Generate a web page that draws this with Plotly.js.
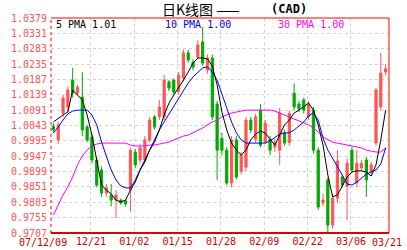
<!DOCTYPE html>
<html><head><meta charset="utf-8">
<script src="https://cdn.plot.ly/plotly-3.0.1.min.js"></script>
<style>html,body{margin:0;padding:0;background:#fff;}#chart{width:407px;height:250px;}</style>
</head><body><div id="chart"></div>
<script>
// Candle data (index 0..69)
const openP  = [1.0040,0.9998,1.0082,1.0101,1.0185,1.0145,1.0132,1.0038,1.0007,0.9935,
                0.9904,0.9832,0.9826,0.9810,0.9810,0.9807,0.9841,0.9960,0.9935,0.9935,
                0.9997,1.0070,1.0070,1.0070,1.0179,1.0185,1.0150,1.0191,1.0270,1.0241,
                1.0257,1.0304,1.0216,1.0254,1.0110,1.0002,0.9966,0.9863,0.9998,0.9900,
                0.9913,1.0060,1.0000,1.0091,0.9990,1.0000,0.9975,0.9966,1.0020,0.9990,
                1.0144,1.0110,1.0123,1.0070,1.0091,0.9966,0.9801,0.9873,0.9732,0.9816,
                0.9882,0.9853,0.9966,0.9863,0.9910,0.9935,0.9900,0.9988,1.0101,1.0210];
const highP  = [1.0050,1.0055,1.0138,1.0165,1.0223,1.0170,1.0210,1.0045,1.0015,0.9945,
                0.9915,0.9860,0.9860,0.9841,0.9815,0.9812,0.9973,0.9970,0.9985,1.0010,
                1.0070,1.0075,1.0123,1.0201,1.0185,1.0190,1.0210,1.0280,1.0280,1.0250,
                1.0310,1.0351,1.0265,1.0265,1.0120,1.0020,0.9975,1.0010,1.0010,0.9960,
                1.0070,1.0070,1.0080,1.0110,1.0060,1.0010,1.0000,1.0098,1.0030,1.0090,
                1.0175,1.0120,1.0130,1.0120,1.0101,0.9975,0.9830,0.9880,0.9830,0.9966,
                0.9890,0.9940,0.9975,0.9966,0.9935,0.9945,0.9930,1.0160,1.0270,1.0235];
const lowP   = [1.0020,0.9985,1.0070,1.0085,1.0130,1.0135,1.0010,0.9990,0.9925,0.9850,
                0.9820,0.9820,0.9790,0.9754,0.9795,0.9790,0.9773,0.9910,0.9925,0.9930,
                0.9990,1.0030,1.0060,1.0060,1.0150,1.0140,1.0140,1.0180,1.0240,1.0215,
                1.0250,1.0230,1.0205,1.0060,0.9873,0.9950,0.9857,0.9850,0.9875,0.9890,
                0.9900,1.0020,0.9990,0.9975,0.9985,0.9950,0.9960,0.9920,0.9980,0.9980,
                1.0090,1.0085,1.0080,1.0060,0.9955,0.9779,0.9790,0.9707,0.9720,0.9800,
                0.9850,0.9748,0.9895,0.9850,0.9900,0.9820,0.9890,0.9980,1.0090,1.0200];
const closeP = [1.0030,1.0045,1.0129,1.0154,1.0145,1.0163,1.0029,0.9998,0.9935,0.9857,
                0.9832,0.9848,0.9810,0.9826,0.9801,0.9798,0.9966,0.9920,0.9973,0.9998,
                1.0060,1.0038,1.0101,1.0185,1.0160,1.0148,1.0200,1.0270,1.0248,1.0226,
                1.0295,1.0238,1.0254,1.0070,0.9966,0.9966,0.9863,0.9998,0.9882,0.9951,
                1.0060,1.0029,1.0070,0.9982,1.0050,0.9966,0.9990,1.0082,0.9988,1.0080,
                1.0101,1.0095,1.0091,1.0110,0.9966,0.9788,0.9810,0.9732,0.9816,0.9932,
                0.9857,0.9925,0.9904,0.9925,0.9925,0.9873,0.9920,1.0154,1.0207,1.0220];
// Moving averages as drawn
const ma5  = [1.0054,1.0066,1.0076,1.0085,1.0154,1.0138,1.0123,1.0076,1.0013,0.9935,
              0.9857,0.9841,0.9829,0.9810,0.9804,0.9810,0.9841,0.9866,0.9904,0.9929,
              0.9966,0.9991,1.0029,1.0076,1.0113,1.0138,1.0160,1.0185,1.0210,1.0238,
              1.0254,1.0254,1.0251,1.0229,1.0170,1.0085,1.0029,0.9988,0.9966,0.9951,
              0.9966,0.9998,1.0016,1.0026,1.0019,1.0000,0.9982,1.0013,1.0045,1.0060,
              1.0082,1.0091,1.0101,1.0113,1.0091,1.0045,0.9982,0.9888,0.9820,0.9826,
              0.9854,0.9882,0.9898,0.9901,0.9901,0.9898,0.9885,0.9920,0.9998,1.0091];
const ma10 = [1.0020,1.0038,1.0060,1.0079,1.0088,1.0091,1.0091,1.0091,1.0076,1.0045,
              0.9991,0.9945,0.9904,0.9873,0.9854,0.9848,0.9848,0.9873,0.9904,0.9935,
              0.9966,0.9998,1.0029,1.0054,1.0079,1.0104,1.0129,1.0154,1.0176,1.0195,
              1.0210,1.0223,1.0226,1.0210,1.0185,1.0138,1.0098,1.0054,1.0020,0.9998,
              0.9988,0.9988,0.9988,0.9988,0.9988,0.9995,1.0007,1.0016,1.0020,1.0020,
              1.0029,1.0041,1.0054,1.0073,1.0082,1.0060,1.0004,0.9966,0.9941,0.9916,
              0.9888,0.9860,0.9857,0.9866,0.9879,0.9891,0.9898,0.9904,0.9923,0.9973];
const ma30 = [0.9763,0.9795,0.9826,0.9851,0.9882,0.9920,0.9948,0.9966,0.9979,0.9985,
              0.9988,0.9988,0.9988,0.9988,0.9988,0.9988,0.9982,0.9979,0.9979,0.9979,
              0.9982,0.9982,0.9985,0.9988,0.9991,0.9998,1.0004,1.0010,1.0013,1.0020,
              1.0026,1.0035,1.0045,1.0054,1.0060,1.0070,1.0076,1.0082,1.0085,1.0088,
              1.0091,1.0091,1.0091,1.0091,1.0091,1.0091,1.0088,1.0082,1.0076,1.0070,
              1.0063,1.0057,1.0051,1.0045,1.0035,1.0023,1.0007,0.9998,0.9991,0.9988,
              0.9985,0.9982,0.9979,0.9976,0.9973,0.9966,0.9963,0.9960,0.9960,0.9973];
const yTicks = [1.0379,1.0331,1.0283,1.0235,1.0187,1.0139,1.0091,1.0043,0.9995,0.9947,0.9899,0.9851,0.9803,0.9755,0.9707];
const xTickPos = [7.8,16.8,25.8,34.8,43.8,52.8,61.8];
const xTickText = ['12/21','01/02','01/15','01/28','02/09','02/22','03/06'];
const firstLabel = '07/12/09', lastLabel = '03/21';
const legendText = ['5 PMA 1.01','10 PMA 1.00','30 PMA 1.00'];

const idx = openP.map((_, i) => i);
const mono = 'DejaVu Sans Mono, monospace';
const traces = [
  {type:'candlestick', x:idx, open:openP, high:highP, low:lowP, close:closeP,
   increasing:{line:{color:'#ff5555',width:1}, fillcolor:'#ff5555'},
   decreasing:{line:{color:'#00aa00',width:1}, fillcolor:'#00aa00'},
   whiskerwidth:0, hoverinfo:'none', showlegend:false},
  {type:'scatter', mode:'lines', x:idx, y:ma30, line:{color:'#ff00ff',width:1}, showlegend:false, hoverinfo:'none'},
  {type:'scatter', mode:'lines', x:idx, y:ma10, line:{color:'#0000ff',width:1}, showlegend:false, hoverinfo:'none'},
  {type:'scatter', mode:'lines', x:idx, y:ma5,  line:{color:'#000000',width:1}, showlegend:false, hoverinfo:'none'}
];
const W = 338;
const layout = {
  width:407, height:250, margin:{l:51,r:18,t:18,b:17},
  paper_bgcolor:'#fff', plot_bgcolor:'#fff', boxgap:0.35,
  xaxis:{type:'linear', range:[-0.5,69.7], rangeslider:{visible:false},
    tickvals:xTickPos, ticktext:xTickText, ticks:'', showline:false, zeroline:false,
    showgrid:true, gridcolor:'#d4d4d4', griddash:'dot', gridwidth:1,
    tickfont:{family:mono, size:10, color:'#cc0000'}, ticklabelstandoff:1, fixedrange:true},
  yaxis:{range:[0.9707,1.0379], tickvals:yTicks, ticktext:yTicks.map(v=>v.toFixed(4)),
    ticks:'', showline:false, zeroline:false, showgrid:true, gridcolor:'#d4d4d4', griddash:'dot', gridwidth:1,
    tickfont:{family:mono, size:10, color:'#ff5555'}, ticklabelstandoff:3, fixedrange:true},
  shapes:[
    {type:'line', xref:'paper', yref:'paper', x0:0, x1:0, y0:0, y1:1, line:{color:'#ff0000',width:1,dash:'dot'}},
    {type:'line', xref:'paper', yref:'paper', x0:0, x1:1, y0:1, y1:1, line:{color:'#ff0000',width:1}},
    {type:'line', xref:'paper', yref:'paper', x0:1, x1:1, y0:0, y1:1, line:{color:'#ff0000',width:1}},
    {type:'line', xref:'paper', yref:'paper', x0:0, x1:1, y0:0, y1:0, line:{color:'#dd0000',width:2}}
  ],
  annotations:[
    {xref:'paper', yref:'paper', x:(43-51)/W, y:0, yshift:-9, text:firstLabel, showarrow:false, xanchor:'center', yanchor:'middle', font:{family:mono,size:10,color:'#cc0000'}},
    {xref:'paper', yref:'paper', x:(387-51)/W, y:0, yshift:-9, text:lastLabel, showarrow:false, xanchor:'center', yanchor:'middle', font:{family:mono,size:10,color:'#cc0000'}},
    {xref:'paper', yref:'paper', x:(54-51)/W, y:1, yshift:-6, text:legendText[0], showarrow:false, xanchor:'left', yanchor:'middle', font:{family:mono,size:10,color:'#000000'}},
    {xref:'paper', yref:'paper', x:(163-51)/W, y:1, yshift:-6, text:legendText[1], showarrow:false, xanchor:'left', yanchor:'middle', font:{family:mono,size:10,color:'#0000ff'}},
    {xref:'paper', yref:'paper', x:(276-51)/W, y:1, yshift:-6, text:legendText[2], showarrow:false, xanchor:'left', yanchor:'middle', font:{family:mono,size:10,color:'#ff00ff'}},
    {xref:'paper', yref:'paper', x:(161-51)/W, y:1, yshift:9, text:'日K线图 ——', showarrow:false, xanchor:'left', yanchor:'middle', borderpad:0, font:{family:'Noto Sans CJK SC, sans-serif',size:14,color:'#000000'}},
    {xref:'paper', yref:'paper', x:(270-51)/W, y:1, yshift:9, text:'<b>(CAD)</b>', showarrow:false, xanchor:'left', yanchor:'middle', borderpad:0, font:{family:mono,size:12,color:'#000000'}}
  ]
};
Plotly.newPlot('chart', traces, layout, {displayModeBar:false, staticPlot:true});
</script></body></html>
